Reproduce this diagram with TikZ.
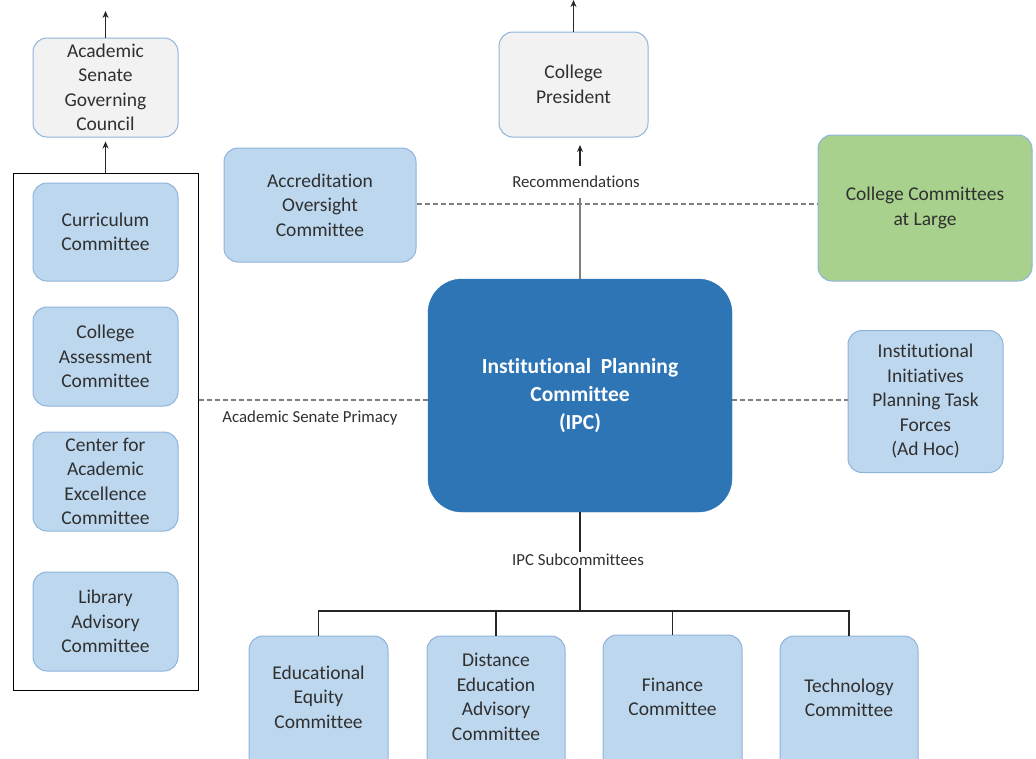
\documentclass[tikz,border=0pt]{standalone}
\usepackage{fontspec}
\setmainfont{Carlito}[Ligatures=NoCommon]
\usetikzlibrary{arrows.meta}
\definecolor{boxblue}{HTML}{BDD7EE}
\definecolor{boxedge}{HTML}{8FB4DC}
\definecolor{boxgray}{HTML}{F2F2F2}
\definecolor{boxgreen}{HTML}{A9D18E}
\definecolor{ipcblue}{HTML}{2E75B6}
\definecolor{txtdark}{HTML}{303030}
\definecolor{dashgray}{HTML}{7F7F7F}
\tikzset{
  basebox/.style={rounded corners=14pt, draw=boxedge, line width=1pt, align=center, inner sep=0pt,
    text=txtdark, font=\fontsize{19.5}{24.5}\selectfont},
  bluebox/.style={basebox, fill=boxblue},
  graybox/.style={basebox, fill=boxgray},
  greenbox/.style={basebox, fill=boxgreen},
  txtonly/.style={align=center, inner sep=0pt, text=txtdark, font=\fontsize{19.5}{24.5}\selectfont},
  smalllbl/.style={inner sep=2pt, text=txtdark, font=\fontsize{16.8}{19}\selectfont},
  conn/.style={line width=1.4pt, draw=black!85},
  dsh/.style={dashed, dash pattern=on 5pt off 3pt, line width=1.3pt, draw=dashgray},
  arr/.style={conn, -{Stealth[length=7pt,width=6pt]}}
}
\begin{document}
\begin{tikzpicture}[x=1pt,y=-1pt]
\clip (0,0) rectangle (1036,758);
\fill[white] (0,0) rectangle (1036,758);
% left column
\node[graybox, minimum width=145, minimum height=99] (asgc) at (105.5,87.5) {Academic\\Senate\\Governing\\Council};
\node[draw=black, line width=1pt, minimum width=185, minimum height=517, inner sep=0pt] (cont) at (105.5,431.5) {};
\node[bluebox, minimum width=145, minimum height=98] (curr) at (105.5,232) {Curriculum\\Committee};
\node[bluebox, minimum width=145, minimum height=99] (cac) at (105.5,356.5) {College\\Assessment\\Committee};
\node[bluebox, minimum width=145, minimum height=99] (cae) at (105.5,481.5) {Center for\\Academic\\Excellence\\Committee};
\node[bluebox, minimum width=145, minimum height=99] (lib) at (105.5,621.5) {Library\\Advisory\\Committee};
\coordinate (asgcup) at (105.5,11);
\draw[arr] (asgc.north) -- (asgcup);
\draw[arr, shorten >=4pt] (cont.north) -- (asgc.south);
% top center
\node[graybox, minimum width=149, minimum height=105] (pres) at (573.5,84.5) {College\\President};
\coordinate (presup) at (573.5,0);
\draw[arr] (pres.north) -- (presup);
\node[smalllbl] (rec) at (576,182) {Recommendations};
\coordinate (ra) at (580,166);
\coordinate (rb) at (580,145);
\draw[arr, line width=1.1pt] (ra) -- (rb);
\node[bluebox, minimum width=192, minimum height=114] (acc) at (320,205) {Accreditation\\Oversight\\Committee};
\node[greenbox, minimum width=214, minimum height=146] (ccl) at (925,208) {College Committees\\at Large};
\draw[dsh] (acc.east |- 0,204) -- (ccl.west |- 0,204);
% IPC
\node[rounded corners=34pt, fill=ipcblue, draw=ipcblue, minimum width=304, minimum height=233, inner sep=0pt,
  align=center, text=white, font=\fontsize{21.5}{28}\selectfont\bfseries] (ipc) at (580,395.5)
  {Institutional\ \ Planning\\Committee\\(IPC)};
\draw[line width=1.3pt, draw=dashgray] (ipc.north) -- (ipc.north |- 0,198);
\node[bluebox, minimum width=155, minimum height=142] (iipt) at (925.5,401.5) {Institutional\\Initiatives\\Planning Task\\Forces\\(Ad Hoc)};
\draw[dsh] (cont.east |- 0,400) -- (ipc.west |- 0,400);
\draw[dsh] (ipc.east |- 0,400) -- (iipt.west |- 0,400);
\node[smalllbl] (asp) at (310,418) {Academic Senate Primacy};
% subcommittees
\node[smalllbl] (sub) at (578,560) {IPC Subcommittees};
\coordinate (bus) at (580,611);
\draw[conn] (ipc.south) -- (ipc.south |- sub.north);
\draw[conn] (sub.south -| bus) -- (bus);
\node[bluebox, minimum width=139, minimum height=140] (ee) at (318.5,706) {};
\node[txtonly] (eet) at (318.5,697) {Educational\\Equity\\Committee};
\node[bluebox, minimum width=138, minimum height=140] (dea) at (496,706) {};
\node[txtonly] (deat) at (496,697) {Distance\\Education\\Advisory\\Committee};
\node[bluebox, minimum width=139, minimum height=140] (fin) at (672.5,705) {};
\node[txtonly] (fint) at (672.5,697) {Finance\\Committee};
\node[bluebox, minimum width=138, minimum height=140] (tech) at (849,706) {};
\node[txtonly] (techt) at (849,698) {Technology\\Committee};
\draw[conn] (ee.north) -- (ee.north |- bus) -- (tech.north |- bus) -- (tech.north);
\draw[conn] (dea.north) -- (dea.north |- bus);
\draw[conn] (fin.north) -- (fin.north |- bus);
\end{tikzpicture}
\end{document}
